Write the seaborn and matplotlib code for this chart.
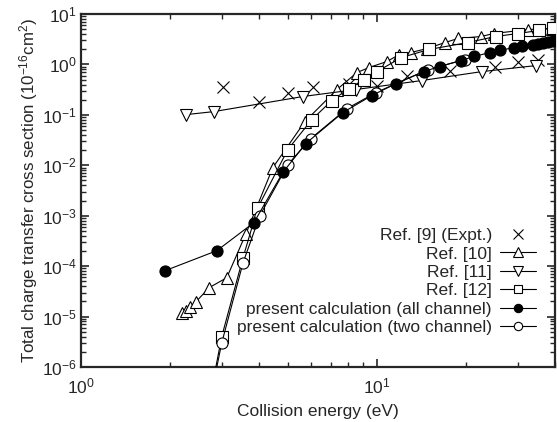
import matplotlib
matplotlib.use("Agg")
import matplotlib.pyplot as plt
import matplotlib.ticker as mticker
import seaborn as sns

# Ref. [9] (experiment) - markers only
e_ref9 = [3.02, 3.99, 5.0, 6.08, 8.04, 10.0, 12.6, 17.6, 25.0, 29.9, 35.0]
s_ref9 = [0.35, 0.184, 0.277, 0.35, 0.418, 0.38, 0.60, 0.757, 0.91, 1.14, 1.25]

# Ref. [10]
e_ref10 = [2.19, 2.26, 2.34, 2.45, 2.71, 3.11, 3.61, 4.45, 5.71, 7.33, 8.56, 9.40,
           10.8, 11.9, 13.0, 14.8, 17.0, 18.8, 22.5, 24.8, 32.4, 39.0]
s_ref10 = [1.19e-5, 1.31e-5, 1.57e-5, 1.98e-5, 3.74e-5, 5.9e-5, 4.4e-4, 9.0e-3,
           0.0736, 0.318, 0.69, 0.867, 1.14, 1.57, 1.72, 2.07, 2.72, 3.27, 3.58,
           4.10, 4.92, 5.15]

# Ref. [11]
e_ref11 = [2.26, 2.81, 5.62, 8.49, 14.2, 22.6, 34.5]
s_ref11 = [0.101, 0.116, 0.231, 0.318, 0.48, 0.72, 0.95]

# Ref. [12]
e_ref12 = [2.73, 2.99, 3.53, 3.96, 5.0, 6.03, 7.04, 8.04, 9.03, 10.0, 12.1, 15.0,
           20.3, 25.2, 29.9, 35.3, 39.3]
s_ref12 = [2.5e-7, 4.0e-6, 1.48e-4, 1.45e-3, 0.0205, 0.0807, 0.192, 0.333, 0.50,
           0.72, 1.37, 1.98, 2.72, 3.58, 4.10, 4.71, 5.40]

# present calculation (all channel)
e_all = [1.92, 2.88, 3.84, 4.81, 5.75, 7.67, 9.62, 11.6, 14.4, 16.3, 19.2, 21.3,
         24.1, 26.0, 29.0, 30.9, 33.7, 35.0, 36.4, 37.8, 39.3]
s_all = [8.1e-5, 2.03e-4, 7.3e-4, 7.2e-3, 0.027, 0.111, 0.242, 0.418, 0.723, 0.908,
         1.19, 1.44, 1.72, 1.89, 2.16, 2.27, 2.48, 2.60, 2.72, 2.84, 2.90]

# present calculation (two channel)
e_two = [2.73, 2.99, 3.53, 4.02, 5.0, 5.98, 7.92, 9.93, 14.9, 19.8]
s_two = [2.2e-7, 3.0e-6, 1.17e-4, 1.0e-3, 0.0103, 0.0339, 0.133, 0.277, 0.79, 1.25]

sns.set_style("ticks")
plt.rcParams['font.family'] = ['Liberation Sans', 'DejaVu Sans']
plt.rcParams['mathtext.fontset'] = 'custom'
plt.rcParams['mathtext.rm'] = 'Liberation Sans'
plt.rcParams['mathtext.it'] = 'Liberation Sans:italic'

fs = 12.5

fig = plt.figure(figsize=(5.57, 4.22), dpi=100)
ax = fig.add_axes([0.1454, 0.1303, 0.8510, 0.8365])

def draw(x, y, marker, label, face='white', ls='-', z=3, ms=8):
    sns.lineplot(x=x, y=y, ax=ax, color='black', lw=0.8, linestyle=ls,
                 marker=marker, markersize=ms, markerfacecolor=face,
                 markeredgecolor='black', markeredgewidth=0.8,
                 sort=False, estimator=None, label=label, zorder=z)

draw(e_ref9, s_ref9, 'x', 'Ref. [9] (Expt.)', ls='none', z=3, ms=9)
draw(e_ref10, s_ref10, '^', 'Ref. [10]', z=3, ms=9)
draw(e_ref11, s_ref11, 'v', 'Ref. [11]', z=3, ms=9)
draw(e_ref12, s_ref12, 's', 'Ref. [12]', z=4)
draw(e_all, s_all, 'o', 'present calculation (all channel)', face='black', z=6)
draw(e_two, s_two, 'o', 'present calculation (two channel)', z=5)

ax.set_xscale('log')
ax.set_yscale('log')
ax.set_xlim(1, 40)
ax.set_ylim(1e-6, 10)

ax.xaxis.set_minor_locator(mticker.LogLocator(base=10, subs=range(2, 10), numticks=20))
ax.yaxis.set_minor_locator(mticker.LogLocator(base=10, subs=range(2, 10), numticks=20))
ax.xaxis.set_minor_formatter(mticker.NullFormatter())
ax.yaxis.set_minor_formatter(mticker.NullFormatter())
ax.yaxis.set_major_locator(mticker.LogLocator(base=10, numticks=20))

ax.tick_params(which='both', direction='in', top=True, right=True, labelsize=fs)
ax.tick_params(which='major', length=6, width=1.2)
ax.tick_params(which='minor', length=3.5, width=1, labelbottom=False, labelleft=False)
ax.tick_params(axis='x', which='major', pad=7)
ax.tick_params(axis='y', which='major', pad=3)
for sp in ax.spines.values():
    sp.set_linewidth(1.6)

ax.set_xlabel('Collision energy (eV)', fontsize=fs, labelpad=5)
ax.set_ylabel(r'Total charge transfer cross section (10$^{-16}$cm$^{2}$)',
              fontsize=12.2, labelpad=1)

handles, labels = ax.get_legend_handles_labels()
ax.legend(handles, labels, loc='lower right', bbox_to_anchor=(0.975, 0.07),
          markerfirst=False, frameon=False, borderaxespad=0,
          fontsize=fs, handlelength=2.1, handletextpad=0.45, labelspacing=0.19,
          markerscale=0.75)

fig.savefig('out.png', dpi=100)
